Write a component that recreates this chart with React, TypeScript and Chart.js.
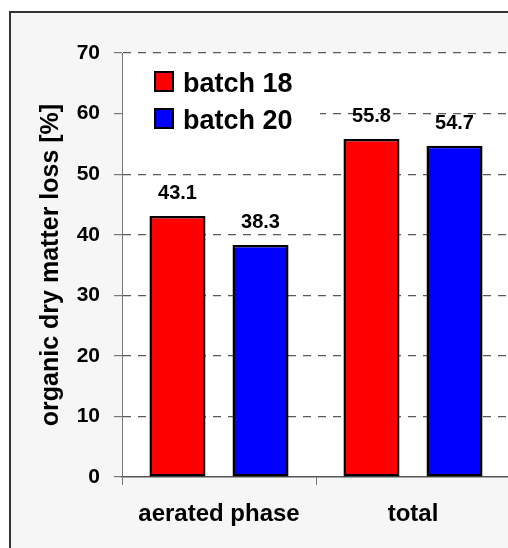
import React, { useEffect, useRef } from 'react';
import { Chart, registerables } from 'chart.js';

Chart.register(...registerables);

const categories = ['aerated phase', 'total'];
const seriesLabels = ['batch 18', 'batch 20'];
const batch18 = [43.1, 55.8];
const batch20 = [38.3, 54.7];
const seriesColors = ['#ff0000', '#0000ff'];
const yMin = 0;
const yMax = 70;
const yStep = 10;
const yTitle = 'organic dry matter loss [%]';

const FONT = '"Liberation Sans", Arial, Helvetica, sans-serif';

const backgroundPlugin = {
  id: 'bgFrame',
  beforeDraw(chart: any) {
    const { ctx, width, height, chartArea } = chart;
    ctx.save();
    ctx.fillStyle = '#ffffff';
    ctx.fillRect(0, 0, width, height);
    ctx.fillStyle = '#f6f6f6';
    ctx.fillRect(10, 12, width, height);
    ctx.strokeStyle = '#333333';
    ctx.lineWidth = 2;
    ctx.strokeRect(10, 12, width + 10, height + 10);
    ctx.fillStyle = '#ffffff';
    ctx.fillRect(chartArea.left, chartArea.top, chartArea.right - chartArea.left, chartArea.bottom - chartArea.top);
    ctx.restore();
  },
};

const valueLabelPlugin = {
  id: 'valueLabels',
  afterDatasetsDraw(chart: any) {
    const { ctx } = chart;
    ctx.save();
    ctx.font = `bold 20px ${FONT}`;
    ctx.fillStyle = '#000';
    ctx.textAlign = 'center';
    ctx.textBaseline = 'alphabetic';
    chart.data.datasets.forEach((ds: any, i: number) => {
      const meta = chart.getDatasetMeta(i);
      meta.data.forEach((bar: any, j: number) => {
        ctx.fillText(Number(ds.data[j]).toFixed(1), bar.x, bar.y - 17);
      });
    });
    ctx.restore();
  },
};

const legendPlugin = {
  id: 'customLegend',
  beforeDatasetsDraw(chart: any) {
    const { ctx, chartArea } = chart;
    ctx.save();
    ctx.fillStyle = '#ffffff';
    ctx.fillRect(chartArea.left + 1, chartArea.top + 8, 197, 76);
    ctx.restore();
  },
  afterDraw(chart: any) {
    const { ctx, chartArea } = chart;
    ctx.save();
    ctx.font = `bold 27px ${FONT}`;
    ctx.textAlign = 'left';
    ctx.textBaseline = 'alphabetic';
    chart.data.datasets.forEach((ds: any, i: number) => {
      const bx = chartArea.left + 33;
      const by = chartArea.top + 19 + i * 37;
      ctx.fillStyle = ds.backgroundColor;
      ctx.fillRect(bx, by, 18, 19);
      ctx.strokeStyle = '#000';
      ctx.lineWidth = 2;
      ctx.strokeRect(bx, by, 18, 19);
      ctx.fillStyle = '#000';
      ctx.fillText(ds.label, bx + 28, by + 20);
    });
    ctx.restore();
  },
};

export default function App() {
  const canvasRef = useRef<HTMLCanvasElement | null>(null);

  useEffect(() => {
    if (!canvasRef.current) return;
    const chart = new Chart(canvasRef.current, {
      type: 'bar',
      data: {
        labels: categories,
        datasets: [
          {
            label: seriesLabels[0],
            data: batch18,
            backgroundColor: seriesColors[0],
            borderColor: '#000',
            borderWidth: 2.5,
            borderSkipped: false,
            categoryPercentage: 0.856,
            barPercentage: 0.675,
          },
          {
            label: seriesLabels[1],
            data: batch20,
            backgroundColor: seriesColors[1],
            borderColor: '#000',
            borderWidth: 2.5,
            borderSkipped: false,
            categoryPercentage: 0.856,
            barPercentage: 0.675,
          },
        ],
      },
      options: {
        animation: false,
        responsive: false,
        events: [],
        layout: { padding: { left: 0, right: 10, top: 53, bottom: 23 } },
        plugins: {
          legend: { display: false },
          tooltip: { enabled: false },
        },
        scales: {
          x: {
            grid: {
              display: true,
              drawOnChartArea: false,
              drawTicks: true,
              tickLength: 8,
              offset: true,
              tickColor: '#777',
            },
            border: { display: true, color: '#555', width: 1.5 },
            ticks: {
              color: '#000',
              font: { family: FONT, size: 24, weight: 'bold' },
              padding: 15,
              maxRotation: 0,
            },
            afterFit: (s: any) => {
              s.height = 60;
            },
          },
          y: {
            min: yMin,
            max: yMax,
            grid: {
              color: (c: any) => (c.tick && c.tick.value === 0 ? 'rgba(0,0,0,0)' : '#5a5a5a'),
              lineWidth: 1.2,
              tickBorderDash: [],
              tickColor: '#777',
              tickLength: 8,
              drawTicks: true,
            },
            border: { display: true, color: '#777', width: 1, dash: [8, 7] },
            ticks: {
              stepSize: yStep,
              color: '#000',
              padding: 14,
              font: { family: FONT, size: 21, weight: 'bold' },
            },
            title: {
              display: true,
              text: yTitle,
              color: '#000',
              font: { family: FONT, size: 25, weight: 'bold' },
              padding: { top: 36, bottom: 0 },
            },
            afterFit: (s: any) => {
              s.width = 122;
            },
          },
        },
      },
      plugins: [backgroundPlugin, valueLabelPlugin, legendPlugin],
    });
    return () => chart.destroy();
  }, []);

  return (
    <div style={{ position: 'fixed', left: 0, top: 0, width: 508, height: 548, overflow: 'hidden', background: '#fff' }}>
      <canvas ref={canvasRef} width={520} height={560} style={{ display: 'block', width: 520, height: 560 }} />
    </div>
  );
}
